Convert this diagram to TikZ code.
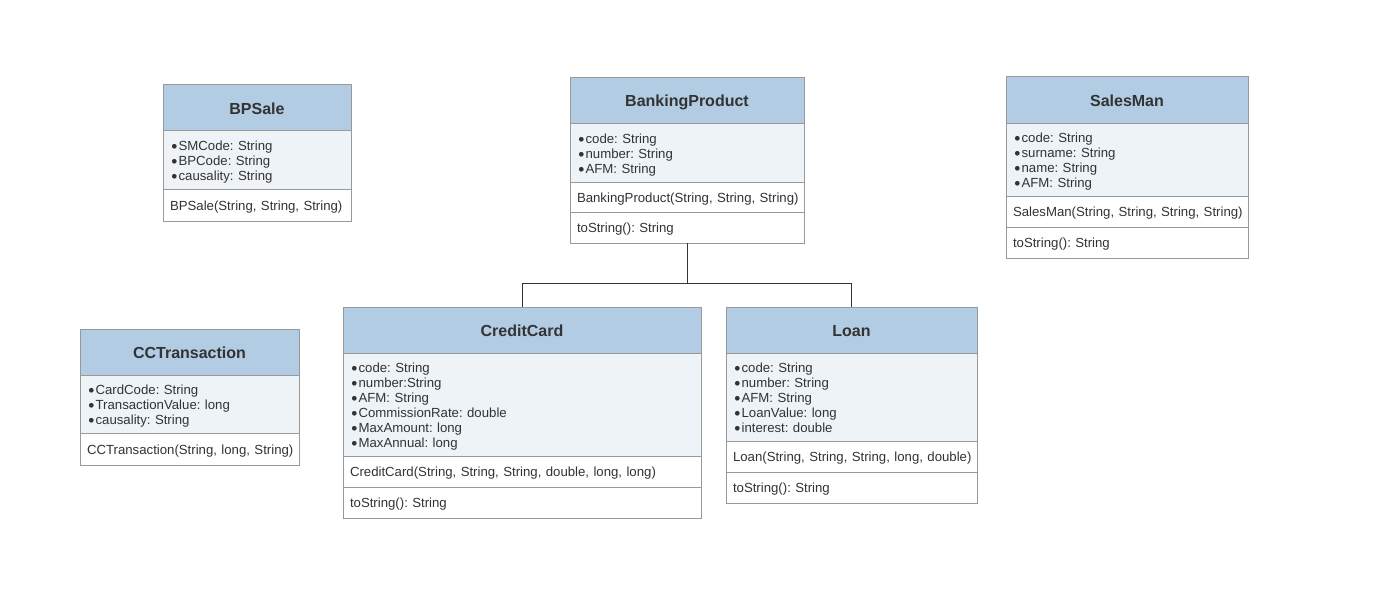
\documentclass[tikz,border=0pt]{standalone}
\usepackage{fontspec}
\setmainfont{Liberation Sans}
\definecolor{hdrfill}{HTML}{B1CCE3}
\definecolor{attrfill}{HTML}{EEF3F8}
\definecolor{edgegray}{HTML}{999999}
\definecolor{txtgray}{HTML}{333333}
\newcommand\umlbul{\hspace{1.0pt}\raisebox{-1.4pt}{\fontsize{13}{11}\selectfont\textbullet}\hspace{0.9pt}}
\tikzset{
  partbox/.style={draw=edgegray, line width=0.75pt, anchor=north west, inner xsep=5.25pt,
    inner ysep=0pt, outer sep=0pt, text=txtgray,
    font=\fontsize{9.9}{11.25}\selectfont\frenchspacing, align=left,
    execute at begin node={\rule{0pt}{10.25pt}},
    execute at end node={\rule[-1pt]{0pt}{0pt}}},
  hdrbox/.style={partbox, fill=hdrfill, font=\bfseries\fontsize{12}{14}\selectfont, align=center,
    execute at begin node={\rule{0pt}{11.3pt}},
    execute at end node={\rule[-2.2pt]{0pt}{0pt}}},
  attrbox/.style={partbox, fill=attrfill},
  methbox/.style={partbox, fill=white},
  conn/.style={draw=txtgray, line width=0.75pt},
}
\begin{document}
\begin{tikzpicture}[x=0.75pt,y=-0.75pt]
\useasboundingbox (0,0) rectangle (1394,613);
\fill[white] (0,0) rectangle (1394,613);

% BPSale
\node[hdrbox, text width=130.5pt, minimum height=34.5pt] (bs-h) at (163,85) {BPSale};
\node[attrbox, text width=130.5pt, minimum height=43.5pt] (bs-a) at (bs-h.south west)
  {\umlbul SMCode: String\\\umlbul BPCode: String\\\umlbul causality: String};
\node[methbox, text width=130.5pt, minimum height=24pt] (bs-m1) at (bs-a.south west)
  {\mbox{BPSale(String, String, String)}};

% BankingProduct
\node[hdrbox, text width=165pt, minimum height=34.5pt] (bp-h) at (570,78) {BankingProduct};
\node[attrbox, text width=165pt, minimum height=43.5pt] (bp-a) at (bp-h.south west)
  {\umlbul code: String\\\umlbul number: String\\\umlbul AFM: String};
\node[methbox, text width=165pt, minimum height=22.5pt] (bp-m1) at (bp-a.south west)
  {\mbox{BankingProduct(String, String, String)}};
\node[methbox, text width=165pt, minimum height=23.25pt] (bp-m2) at (bp-m1.south west)
  {toString(): String};

% SalesMan
\node[hdrbox, text width=171pt, minimum height=35.25pt] (sm-h) at (1006,77) {SalesMan};
\node[attrbox, text width=171pt, minimum height=54pt] (sm-a) at (sm-h.south west)
  {\umlbul code: String\\\umlbul surname: String\\\umlbul name: String\\\umlbul AFM: String};
\node[methbox, text width=171pt, minimum height=23.25pt] (sm-m1) at (sm-a.south west)
  {\mbox{SalesMan(String, String, String, String)}};
\node[methbox, text width=171pt, minimum height=23.25pt] (sm-m2) at (sm-m1.south west)
  {toString(): String};

% CCTransaction
\node[hdrbox, text width=153.75pt, minimum height=34.5pt] (ct-h) at (80,329) {CCTransaction};
\node[attrbox, text width=153.75pt, minimum height=43.5pt] (ct-a) at (ct-h.south west)
  {\umlbul CardCode: String\\\umlbul TransactionValue: long\\\umlbul causality: String};
\node[methbox, text width=153.75pt, minimum height=24pt] (ct-m1) at (ct-a.south west)
  {\mbox{CCTransaction(String, long, String)}};

% CreditCard
\node[hdrbox, text width=258pt, minimum height=34.5pt] (cc-h) at (343,307) {CreditCard};
\node[attrbox, text width=258pt, minimum height=77.25pt] (cc-a) at (cc-h.south west)
  {\umlbul code: String\\\umlbul number:String\\\umlbul AFM: String\\\umlbul CommissionRate: double\\\umlbul MaxAmount: long\\\umlbul MaxAnnual: long};
\node[methbox, text width=258pt, minimum height=23.25pt] (cc-m1) at (cc-a.south west)
  {\mbox{CreditCard(String, String, String, double, long, long)}};
\node[methbox, text width=258pt, minimum height=23.25pt] (cc-m2) at (cc-m1.south west)
  {toString(): String};

% Loan
\node[hdrbox, text width=177.75pt, minimum height=34.5pt] (ln-h) at (726,307) {Loan};
\node[attrbox, text width=177.75pt, minimum height=66pt] (ln-a) at (ln-h.south west)
  {\umlbul code: String\\\umlbul number: String\\\umlbul AFM: String\\\umlbul LoanValue: long\\\umlbul interest: double};
\node[methbox, text width=177.75pt, minimum height=23.25pt] (ln-m1) at (ln-a.south west)
  {\mbox{Loan(String, String, String, long, double)}};
\node[methbox, text width=177.75pt, minimum height=23.25pt] (ln-m2) at (ln-m1.south west)
  {toString(): String};

% inheritance connectors
\coordinate (jn) at (0,283);
\draw[conn] (bp-m2.south) -- (bp-m2.south |- jn) -| (cc-h.north);
\draw[conn] (bp-m2.south |- jn) -| (ln-h.north);
\end{tikzpicture}
\end{document}
